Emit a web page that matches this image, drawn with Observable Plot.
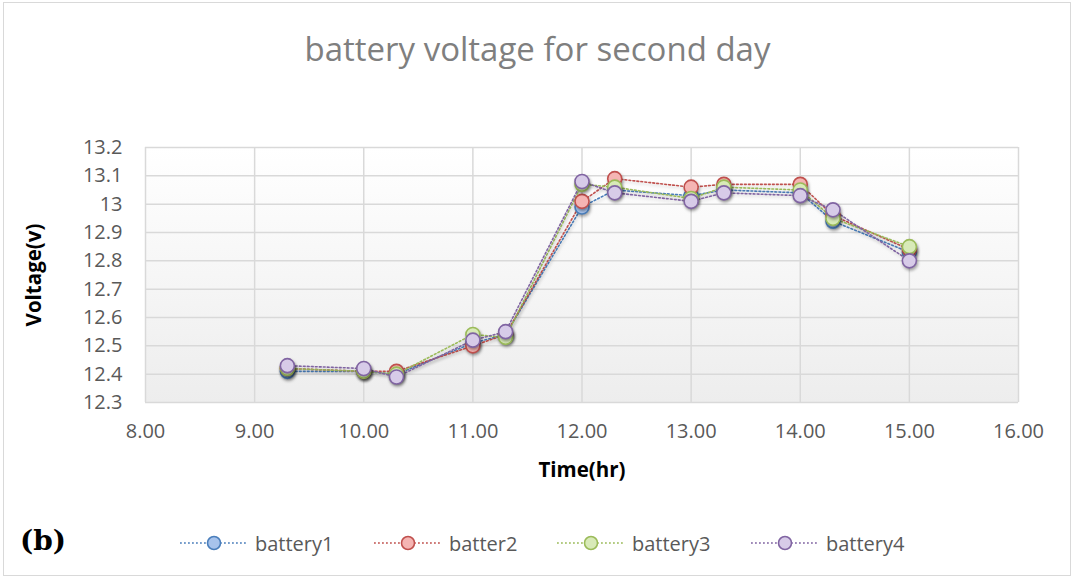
<!DOCTYPE html>
<html>
<head>
<meta charset="utf-8">
<script src="https://cdn.jsdelivr.net/npm/d3@7"></script>
<script src="https://cdn.jsdelivr.net/npm/@observablehq/plot@0.6"></script>
<style>
  html, body { margin: 0; padding: 0; background: #ffffff; }
  #chart { position: relative; width: 1075px; height: 579px; overflow: hidden; font-family: "Open Sans", sans-serif; }
  #border { position: absolute; left: 3px; top: 2px; width: 1068px; height: 574px; border: 1px solid #d9d9d9; box-sizing: border-box; }
  #title { position: absolute; left: 0; width: 1075px; top: 27px; text-align: center; font-size: 33px; color: #7f7f7f; line-height: 44px; }
  #plot { position: absolute; left: 0; top: 0; }
  #tag { position: absolute; left: 20px; top: 524px; font-family: "DejaVu Serif", serif; font-weight: bold; font-size: 28px; color: #000; }
  #legend { position: absolute; top: 530px; left: 0; width: 1075px; height: 26px; }
  .item { position: absolute; top: 0; height: 26px; display: flex; align-items: center; font-size: 20px; color: #595959; }
  .item svg { margin-right: 7px; }
  g[aria-label="y-axis label"] text, g[aria-label="x-axis label"] text { font-weight: bold; fill: #000; font-size: 20.5px; }
  g[aria-label="dot"] circle { filter: drop-shadow(1px 2px 1.5px rgba(0,0,0,0.35)); }
  g[aria-label="line"] path { filter: drop-shadow(1px 2px 1.5px rgba(0,0,0,0.15)); }
</style>
</head>
<body>
<div id="chart">
  <div id="border"></div>
  <div id="plot"></div>
  <div id="title">battery voltage for second day</div>
  <div id="tag">(b)</div>
  <div id="legend"></div>
</div>
<script>
// ---- data ----
const times = [9.3, 10.0, 10.3, 11.0, 11.3, 12.0, 12.3, 13.0, 13.3, 14.0, 14.3, 15.0];
const battery1 = [12.41, 12.41, 12.40, 12.51, 12.54, 12.99, 13.05, 13.03, 13.05, 13.04, 12.94, 12.83];
const batter2  = [12.42, 12.41, 12.41, 12.50, 12.54, 13.01, 13.09, 13.06, 13.07, 13.07, 12.96, 12.84];
const battery3 = [12.42, 12.41, 12.40, 12.54, 12.53, 13.07, 13.06, 13.02, 13.06, 13.05, 12.95, 12.85];
const battery4 = [12.43, 12.42, 12.39, 12.52, 12.55, 13.08, 13.04, 13.01, 13.04, 13.03, 12.98, 12.80];
const seriesNames = ["battery1", "batter2", "battery3", "battery4"];
const seriesValues = [battery1, batter2, battery3, battery4];
const lineColors = ["#4a7ebb", "#c0504d", "#9bbb59", "#8064a2"];
const fillColors = ["#a7c3ec", "#f5b5b3", "#d8eab8", "#d7cbe8"];
const xTicks = [8, 9, 10, 11, 12, 13, 14, 15, 16];
const yTicks = [12.3, 12.4, 12.5, 12.6, 12.7, 12.8, 12.9, 13.0, 13.1, 13.2];

const rows = [];
seriesNames.forEach((s, i) => {
  times.forEach((t, j) => rows.push({series: s, idx: i, time: t, v: seriesValues[i][j]}));
});

const plot = Plot.plot({
  width: 1075,
  height: 500,
  marginLeft: 145,
  marginRight: 57,
  marginTop: 147,
  marginBottom: 98,
  style: {fontFamily: "'Open Sans', sans-serif", fontSize: "20px", background: "transparent", overflow: "visible"},
  x: {domain: [8, 16]},
  y: {domain: [12.3, 13.2]},
  marks: [
    Plot.frame({fill: "url(#bggrad)", stroke: null}),
    Plot.gridX(xTicks, {stroke: "#d9d9d9", strokeOpacity: 1, strokeWidth: 1.5}),
    Plot.gridY(yTicks, {stroke: "#d9d9d9", strokeOpacity: 1, strokeWidth: 1.5}),
    Plot.axisX({ticks: xTicks, tickSize: 0, tickPadding: 21, tickFormat: d3.format(".2f"), color: "#595959",
      fontSize: 20, label: "Time(hr)", labelAnchor: "center", labelArrow: "none", labelOffset: 74}),
    Plot.axisY({ticks: yTicks, tickSize: 0, tickPadding: 23, tickFormat: d => String(+d.toFixed(1)), color: "#595959",
      fontSize: 20, label: "Voltage(v)", labelAnchor: "center", labelArrow: "none", labelOffset: 119}),
    Plot.line(rows, {x: "time", y: "v", z: "series", stroke: d => lineColors[d.idx], strokeWidth: 1.6, strokeDasharray: "1.8,2.2"}),
    Plot.dot(rows, {x: "time", y: "v", r: 7, fill: d => fillColors[d.idx], stroke: d => lineColors[d.idx], strokeWidth: 1.6})
  ]
});

const defs = d3.create("svg:defs");
const grad = defs.append("linearGradient").attr("id", "bggrad").attr("x1", 0).attr("y1", 0).attr("x2", 0).attr("y2", 1);
grad.append("stop").attr("offset", "0%").attr("stop-color", "#ffffff");
grad.append("stop").attr("offset", "100%").attr("stop-color", "#ededed");
plot.insertBefore(defs.node(), plot.firstChild);
document.getElementById("plot").appendChild(plot);

// legend
const legendX = [180, 374, 557, 751];
const legend = document.getElementById("legend");
seriesNames.forEach((s, i) => {
  const item = document.createElement("div");
  item.className = "item";
  item.style.left = legendX[i] + "px";
  item.innerHTML = `<svg width="68" height="26"><line x1="0" x2="68" y1="13" y2="13" stroke="${lineColors[i]}" stroke-width="1.6" stroke-dasharray="1.8,2.2"/>` +
    `<circle cx="34" cy="13" r="6.5" fill="${fillColors[i]}" stroke="${lineColors[i]}" stroke-width="1.6"/></svg><span>${s}</span>`;
  legend.appendChild(item);
});
</script>
</body>
</html>
